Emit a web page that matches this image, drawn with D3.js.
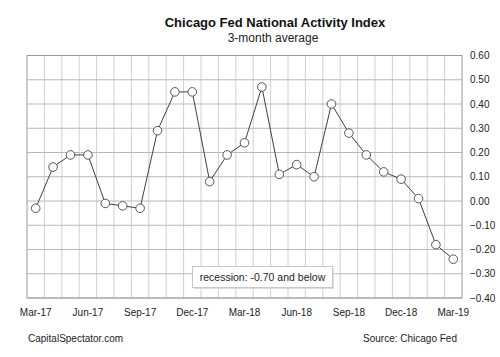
<!DOCTYPE html>
<html><head><meta charset="utf-8">
<script src="https://cdn.jsdelivr.net/npm/d3@7"></script>
<style>body{margin:0;background:#fff;}svg{display:block;font-family:"Liberation Sans",Arial,sans-serif;}</style>
</head><body>
<svg id="c" width="500" height="357"></svg>
<script>
const months = ["Mar-17","Apr-17","May-17","Jun-17","Jul-17","Aug-17","Sep-17","Oct-17","Nov-17","Dec-17","Jan-18","Feb-18","Mar-18","Apr-18","May-18","Jun-18","Jul-18","Aug-18","Sep-18","Oct-18","Nov-18","Dec-18","Jan-19","Feb-19","Mar-19"];
const values = [-0.03,0.14,0.19,0.19,-0.01,-0.02,-0.03,0.29,0.45,0.45,0.08,0.19,0.24,0.47,0.11,0.15,0.10,0.40,0.28,0.19,0.12,0.09,0.01,-0.18,-0.24];
const xTickLabels = ["Mar-17","Jun-17","Sep-17","Dec-17","Mar-18","Jun-18","Sep-18","Dec-18","Mar-19"];
const yTicks = [0.6,0.5,0.4,0.3,0.2,0.1,0,-0.1,-0.2,-0.3,-0.4];
const title = "Chicago Fed National Activity Index";
const subtitle = "3-month average";
const legendText = "recession: -0.70 and below";
const leftNote = "CapitalSpectator.com";
const rightNote = "Source: Chicago Fed";

const svg = d3.select("#c");
const L = 27, R = 462, T = 55.5, B = 298;
const x = d3.scaleBand().domain(months).range([L, R]);
const y = d3.scaleLinear().domain([-0.4, 0.6]).range([B, T]);

const g = svg.append("g");
months.forEach((m, i) => {
  if (i === 0) return;
  g.append("line").attr("x1", x(m)).attr("x2", x(m)).attr("y1", T).attr("y2", B)
    .attr("stroke", "#d0d0d0").attr("stroke-width", 1);
});
yTicks.forEach(t => {
  g.append("line").attr("x1", L).attr("x2", R).attr("y1", y(t)).attr("y2", y(t))
    .attr("stroke", "#b8b8b8").attr("stroke-width", 1);
});
svg.append("rect").attr("x", L).attr("y", T).attr("width", R - L).attr("height", B - T)
  .attr("fill", "none").attr("stroke", "#999").attr("stroke-width", 1);

const yAxis = d3.axisRight(y).tickValues(yTicks).tickFormat(d3.format(".2f")).tickSize(0).tickPadding(8);
const ya = svg.append("g").attr("transform", `translate(${R},0)`).call(yAxis);
ya.select(".domain").remove();
ya.selectAll("text").attr("font-size", 10).attr("fill", "#222").attr("font-family", "Liberation Sans, Arial");

const xAxis = d3.axisBottom(x).tickValues(xTickLabels).tickSize(0).tickPadding(11);
const xa = svg.append("g").attr("transform", `translate(0,${B})`).call(xAxis);
xa.select(".domain").remove();
xa.selectAll("text").attr("font-size", 10).attr("fill", "#222").attr("font-family", "Liberation Sans, Arial");

const cx = m => x(m) + x.bandwidth() / 2;
svg.append("path").datum(values)
  .attr("d", d3.line().x((d, i) => cx(months[i])).y(d => y(d)))
  .attr("fill", "none").attr("stroke", "#404040").attr("stroke-width", 1);
svg.selectAll("circle.pt").data(values).enter().append("circle")
  .attr("class", "pt").attr("cx", (d, i) => cx(months[i])).attr("cy", d => y(d))
  .attr("r", 4.3).attr("fill", "#fff").attr("stroke", "#555").attr("stroke-width", 1);

const lg = svg.append("g");
lg.append("rect").attr("x", 194).attr("y", 268).attr("width", 140).attr("height", 21).attr("fill", "#ddd");
lg.append("rect").attr("x", 192.5).attr("y", 266.5).attr("width", 140).attr("height", 21)
  .attr("fill", "#fff").attr("stroke", "#c8c8c8");
lg.append("text").attr("x", 262.5).attr("y", 281).attr("text-anchor", "middle")
  .attr("font-size", 10.5).attr("fill", "#222").text(legendText);

svg.append("text").attr("x", 275).attr("y", 27).attr("text-anchor", "middle")
  .attr("font-size", 13).attr("font-weight", "bold").attr("fill", "#111").text(title);
svg.append("text").attr("x", 273).attr("y", 42).attr("text-anchor", "middle")
  .attr("font-size", 12).attr("fill", "#222").text(subtitle);

svg.append("text").attr("x", 28).attr("y", 342).attr("font-size", 10).attr("fill", "#222").text(leftNote);
svg.append("text").attr("x", 457).attr("y", 342).attr("text-anchor", "end").attr("font-size", 10).attr("fill", "#222").text(rightNote);
</script>
</body></html>
